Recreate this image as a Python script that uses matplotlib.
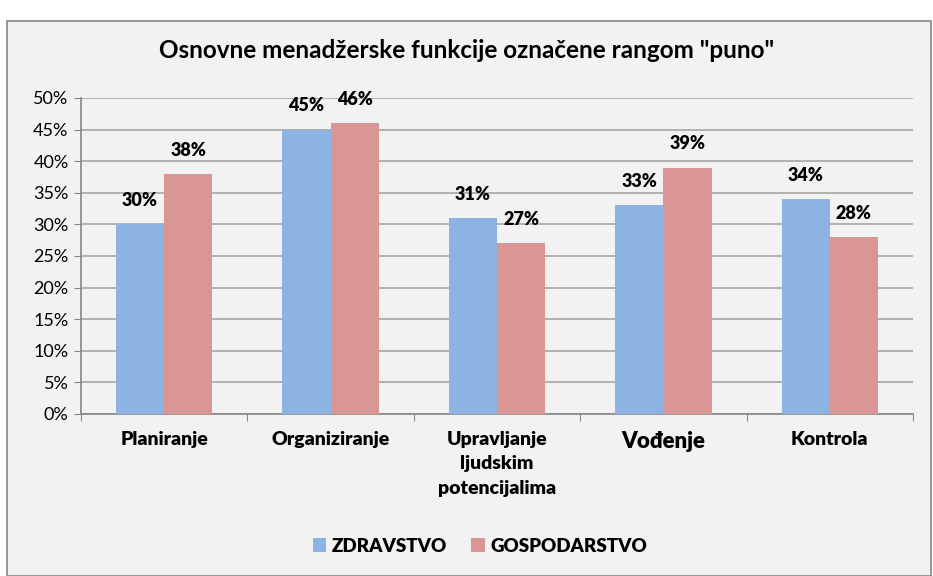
import matplotlib.pyplot as plt
import numpy as np
from matplotlib.patches import Rectangle

# chart data
kategorije = ["Planiranje", "Organiziranje", "Upravljanje\nljudskim\npotencijalima", "Vođenje", "Kontrola"]
zdravstvo = [30, 45, 31, 33, 34]
gospodarstvo = [38, 46, 27, 39, 28]
serije = ["ZDRAVSTVO", "GOSPODARSTVO"]

plava = "#8DB3E2"
crvena = "#D99694"
pozadina = "#F2F2F2"

plt.rcParams['font.family'] = ['Lato', 'DejaVu Sans']

fig = plt.figure(figsize=(9.33, 5.76), dpi=100)
fig.patch.set_facecolor("white")
# grey chart frame
fig.patches.append(Rectangle((7 / 933, 0), 924 / 933, 1 - 21 / 576, transform=fig.transFigure,
                             facecolor=pozadina, edgecolor="#868686", linewidth=1.2, zorder=-1))

ax = fig.add_axes([81 / 933, 1 - 414 / 576, 832 / 933, 316 / 576])
ax.set_zorder(1)
ax.set_facecolor(pozadina)

x = np.arange(len(kategorije))
w = 0.29
b1 = ax.bar(x - w / 2, zdravstvo, w, color=plava, label=serije[0], zorder=3)
b2 = ax.bar(x + w / 2, gospodarstvo, w, color=crvena, label=serije[1], zorder=3)

for rects, vals in ((b1, zdravstvo), (b2, gospodarstvo)):
    for r, v in zip(rects, vals):
        ax.annotate("%d%%" % v, (r.get_x() + r.get_width() / 2, v), xytext=(0, 17),
                    textcoords="offset points", ha="center", va="center",
                    fontsize=13, fontweight="heavy", zorder=4)

ax.set_xlim(-0.5, len(kategorije) - 0.5)
ax.set_ylim(0, 50)
ax.set_yticks(range(0, 51, 5))
ax.set_yticklabels(["%d%%" % t for t in range(0, 51, 5)], fontsize=13)
ax.yaxis.grid(True, color="#A6A6A6", linewidth=1.2, zorder=1)
ax.set_xticks(np.arange(-0.5, len(kategorije), 1))
ax.set_xticklabels([])
ax.set_xticks(x, minor=True)
ax.set_xticklabels(kategorije, minor=True, va="top")
ax.tick_params(axis="x", which="minor", length=0, pad=12)
ax.tick_params(axis="x", which="major", length=5, color="#868686")
ax.tick_params(axis="y", length=5, color="#868686", pad=4)
for lbl in ax.get_xticklabels(minor=True):
    lbl.set_fontweight("heavy")
    lbl.set_fontsize(14)
    if lbl.get_text() == "Vođenje":
        lbl.set_fontsize(16)
    lbl.set_linespacing(1.55)

for s in ["top", "right"]:
    ax.spines[s].set_visible(False)
for s in ["left", "bottom"]:
    ax.spines[s].set_color("#868686")
    ax.spines[s].set_linewidth(1.2)

fig.text(0.5, 1 - 50 / 576, 'Osnovne menadžerske funkcije označene rangom "puno"',
         ha="center", va="center", fontsize=17.5, fontweight="bold")

leg = fig.legend(loc="center", bbox_to_anchor=(480 / 933, 1 - 546 / 576), ncol=2, frameon=False,
                 prop={"size": 13.5, "weight": "heavy"}, handlelength=0.7, handleheight=0.7,
                 columnspacing=1.3, handletextpad=0.3)

fig.savefig("out.png", dpi=100)
